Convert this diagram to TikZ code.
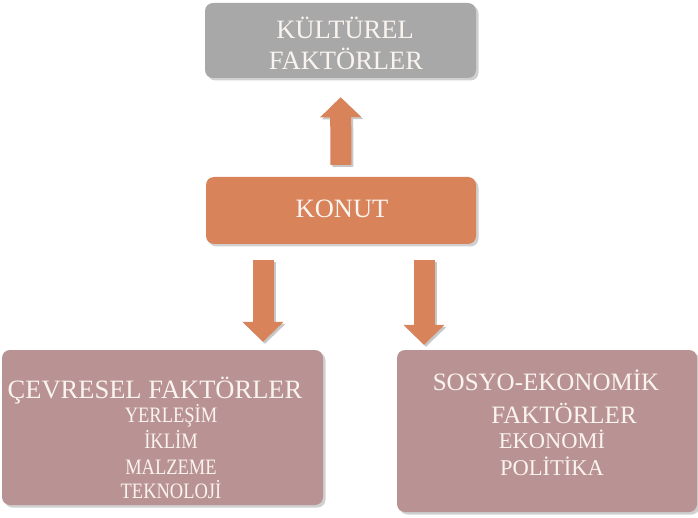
\documentclass[tikz,border=0pt]{standalone}
\usepackage{fontspec}
\setmainfont{Liberation Serif}
\usetikzlibrary{shadows,arrows.meta}
\definecolor{boxgray}{RGB}{168,168,168}
\definecolor{boxorange}{RGB}{217,131,91}
\definecolor{boxrose}{RGB}{185,147,147}
\definecolor{txtwhite}{RGB}{250,244,240}
\definecolor{shadowgray}{RGB}{150,150,150}
\begin{document}
\begin{tikzpicture}[x=1pt,y=1pt,
  panel/.style={rectangle, rounded corners=8pt, inner sep=0pt,
    drop shadow={shadow xshift=2.5pt, shadow yshift=-2.5pt, opacity=0.45, fill=shadowgray}},
  txt/.style={text=txtwhite, anchor=base, inner sep=0pt},
  big/.style={txt, font=\fontsize{26.5}{31}\selectfont},
  smallL/.style={txt, font=\fontsize{22}{26}\selectfont, xscale=0.84, transform shape},
  smallR/.style={txt, font=\fontsize{22.5}{26}\selectfont},
  blockarrow/.style={draw=boxorange, line width=21pt, -{Triangle[width=40pt,length=20pt]}},
  arrowshadow/.style={blockarrow, draw=black!22, transform canvas={xshift=2pt,yshift=-2pt}}
]
\useasboundingbox (0,0) rectangle (698,517);
% boxes
\node[panel, fill=boxgray, minimum width=271pt, minimum height=75pt] (kultur) at (340.5,476.5) {};
\node[panel, fill=boxorange, minimum width=270pt, minimum height=67pt] (konut) at (341,306.5) {};
\node[panel, fill=boxrose, minimum width=321pt, minimum height=155pt] (cevre) at (162.5,89.5) {};
\node[panel, fill=boxrose, minimum width=300pt, minimum height=162pt] (sosyo) at (547,86) {};
% texts
\node[big] (k1) at (345,478) {KÜLTÜREL};
\node[big] (k2) at (346,447) {FAKTÖRLER};
\node[big] (kon) at (342,299) {KONUT};
\node[big] (c0) at (155,119) {ÇEVRESEL FAKTÖRLER};
\node[smallL] (c1) at (171,95) {YERLEŞİM};
\node[smallL] (c2) at (171,69) {İKLİM};
\node[smallL] (c3) at (171,43) {MALZEME};
\node[smallL] (c4) at (171,19) {TEKNOLOJİ};
\node[big, font=\fontsize{25}{29}\selectfont] (s0) at (546,127) {SOSYO-EKONOMİK};
\node[big, font=\fontsize{25}{29}\selectfont] (s1) at (564,94) {FAKTÖRLER};
\node[smallR] (s2) at (552,69) {EKONOMİ};
\node[smallR] (s3) at (552,42) {POLİTİKA};
% arrows
\coordinate (lx) at (263,0);
\coordinate (rx) at (424,0);
\draw[arrowshadow, shorten <=12pt, shorten >=19pt] (konut.north) -- (kultur.south);
\draw[blockarrow, shorten <=12pt, shorten >=19pt] (konut.north) -- (kultur.south);
\draw[arrowshadow, shorten <=16pt, shorten >=8pt] (konut.south -| lx) -- (cevre.north -| lx);
\draw[blockarrow, shorten <=16pt, shorten >=8pt] (konut.south -| lx) -- (cevre.north -| lx);
\draw[arrowshadow, shorten <=16pt, shorten >=5pt] (konut.south -| rx) -- (sosyo.north -| rx);
\draw[blockarrow, shorten <=16pt, shorten >=5pt] (konut.south -| rx) -- (sosyo.north -| rx);
\end{tikzpicture}
\end{document}
